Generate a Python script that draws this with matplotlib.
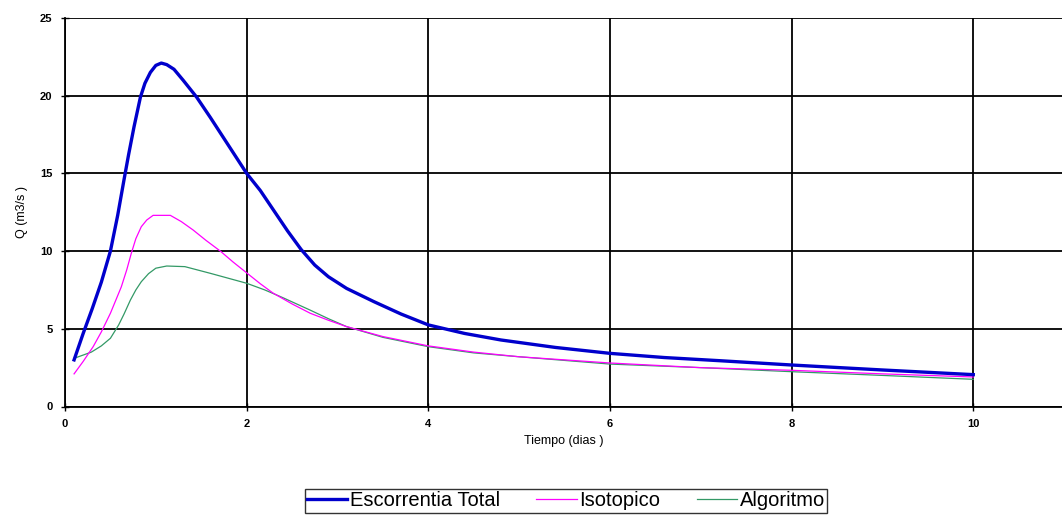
import matplotlib
matplotlib.use("Agg")
import matplotlib.pyplot as plt

# Data
total_x = [0.1, 0.2, 0.3, 0.4, 0.5, 0.58, 0.65, 0.7, 0.76, 0.83, 0.88, 0.94, 1.0, 1.06, 1.12, 1.2, 1.3,
           1.45, 1.6, 1.8, 2.0, 2.15, 2.3, 2.45, 2.6, 2.75, 2.9, 3.1, 3.4, 3.7, 4.0, 4.4, 4.8, 5.4,
           6.0, 6.6, 7.2, 8.0, 9.0, 10.0]
total_y = [3.0, 4.7, 6.3, 8.0, 10.0, 12.3, 14.6, 16.2, 18.0, 19.9, 20.8, 21.5, 21.95, 22.1, 22.0, 21.7, 21.0,
           19.9, 18.6, 16.8, 15.0, 13.9, 12.6, 11.3, 10.1, 9.1, 8.35, 7.6, 6.75, 5.95, 5.25, 4.7, 4.28, 3.8,
           3.42, 3.15, 2.95, 2.67, 2.35, 2.05]

iso_x = [0.1, 0.2, 0.31, 0.4, 0.5, 0.62, 0.68, 0.73, 0.78, 0.84, 0.9, 0.97, 1.16, 1.28, 1.41, 1.55, 1.71,
         1.85, 2.0, 2.15, 2.29, 2.5, 2.7, 2.9, 3.1, 3.5, 4.0, 4.5, 5.0, 6.0, 7.0, 8.0, 9.0, 10.0]
iso_y = [2.1, 2.9, 3.85, 4.8, 6.0, 7.7, 8.8, 9.86, 10.8, 11.57, 12.0, 12.3, 12.3, 11.9, 11.36, 10.7, 10.0,
         9.3, 8.6, 7.9, 7.3, 6.6, 6.0, 5.55, 5.14, 4.5, 3.9, 3.5, 3.2, 2.8, 2.5, 2.33, 2.1, 1.9]

alg_x = [0.1, 0.29, 0.4, 0.5, 0.59, 0.65, 0.72, 0.78, 0.84, 0.92, 1.0, 1.12, 1.32, 1.6, 1.8, 2.0, 2.2,
         2.4, 2.7, 2.9, 3.1, 3.5, 4.0, 4.5, 5.0, 6.0, 7.0, 8.0, 9.0, 10.0]
alg_y = [3.1, 3.5, 3.9, 4.39, 5.24, 5.95, 6.85, 7.5, 8.03, 8.55, 8.9, 9.04, 9.0, 8.57, 8.25, 7.93, 7.5,
         7.0, 6.2, 5.65, 5.14, 4.45, 3.85, 3.45, 3.2, 2.73, 2.5, 2.24, 2.0, 1.75]

x_ticks = [0, 2, 4, 6, 8, 10]
y_ticks = [0, 5, 10, 15, 20, 25]

plt.rcParams['font.family'] = ['Liberation Sans', 'DejaVu Sans']

fig = plt.figure(figsize=(10.62, 5.27), dpi=100)
ax = fig.add_axes([65/1062, 1 - 406.5/527, 1 - 65/1062, (406.5 - 18)/527])

ax.plot(total_x, total_y, color='#0000CC', lw=2.4, label='Escorrentia Total', zorder=5,
        solid_joinstyle='round')
ax.plot(iso_x, iso_y, color='#FF00FF', lw=0.9, label='Isotopico', zorder=4)
ax.plot(alg_x, alg_y, color='#339966', lw=0.9, label='Algoritmo', zorder=3)

ax.set_xlim(0, 997/90.83)
ax.set_ylim(0, 25)
ax.set_xticks(x_ticks)
ax.set_yticks(y_ticks)
ax.grid(True, color='black', lw=1.3)
ax.set_axisbelow(True)
for s in ['top', 'right']:
    ax.spines[s].set_visible(False)
for s in ['left', 'bottom']:
    ax.spines[s].set_color('black')
    ax.spines[s].set_linewidth(1.3)
ax.tick_params(direction='inout', length=6, width=1.0, labelsize=8, pad=6)
for lab in ax.get_xticklabels() + ax.get_yticklabels():
    lab.set_fontweight('bold')

ax.set_xlabel('Tiempo (dias )', fontsize=9, labelpad=4)
ax.set_ylabel('Q (m3/s )', fontsize=9, labelpad=9)

leg = fig.legend(loc='center', bbox_to_anchor=(566/1062, 1 - 501/527), ncol=3, fontsize=14.5,
                 frameon=True, fancybox=False, edgecolor='black', handlelength=2.0,
                 handletextpad=0.15, columnspacing=1.8, borderpad=0.1, borderaxespad=0)
leg.get_frame().set_linewidth(1.0)

fig.savefig('out.png', dpi=100)
